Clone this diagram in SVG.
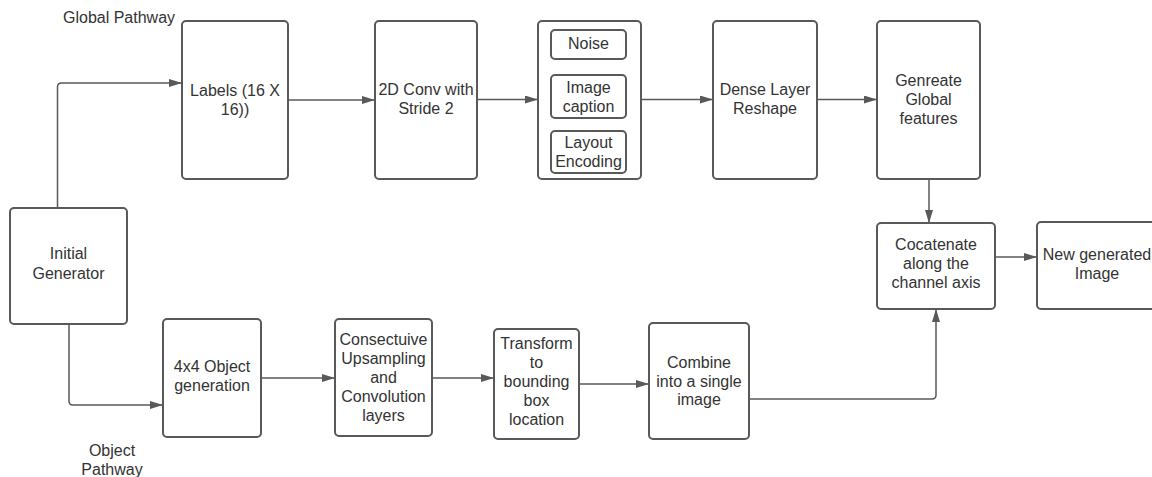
<svg xmlns="http://www.w3.org/2000/svg" width="1152" height="477" viewBox="0 0 1152 477">
  <style>
    .box { fill: #ffffff; stroke: #595959; stroke-width: 2; }
    .inner { fill: #ffffff; stroke: #595959; stroke-width: 2; }
    .wire { fill: none; stroke: #595959; stroke-width: 1.5; marker-end: url(#arrow); }
    text { font-family: "Liberation Sans", Arial, sans-serif; font-size: 16px; fill: #333333; }
    .c { text-anchor: middle; }
  </style>
  <defs>
    <marker id="arrow" markerUnits="userSpaceOnUse" markerWidth="13" markerHeight="8" refX="13" refY="4" orient="auto">
      <path d="M0,0 L13,4 L0,8 Z" fill="#595959"/>
    </marker>
  </defs>
  <rect width="1152" height="477" fill="#ffffff"/>

  <!-- free labels -->
  <text x="63" y="23">Global Pathway</text>
  <text class="c" x="112" y="456">Object</text>
  <text class="c" x="112" y="475">Pathway</text>

  <!-- connectors -->
  <g id="connectors">
    <path class="wire" d="M57.5,208 V87 Q57.5,83 61.5,83 H182"/>
    <path class="wire" d="M288,100 H375"/>
    <path class="wire" d="M477,99.5 H538"/>
    <path class="wire" d="M641,99.5 H713"/>
    <path class="wire" d="M817,99.5 H877"/>
    <path class="wire" d="M929,179 V223"/>
    <path class="wire" d="M995,257 H1037"/>
    <path class="wire" d="M69,324 V401 Q69,405 73,405 H163"/>
    <path class="wire" d="M261,378 H335"/>
    <path class="wire" d="M432,378 H494"/>
    <path class="wire" d="M579,384 H649"/>
    <path class="wire" d="M749,399 H932 Q936,399 936,395 V309"/>
  </g>

  <!-- global pathway -->
  <g id="labels">
    <rect class="box" x="182" y="21" width="106" height="158" rx="4"/>
    <text class="c" x="235" y="96">Labels (16 X</text>
    <text class="c" x="235" y="115">16))</text>
  </g>
  <g id="conv2d">
    <rect class="box" x="375" y="21" width="102" height="158" rx="4"/>
    <text class="c" x="426" y="95">2D Conv with</text>
    <text class="c" x="426" y="114">Stride 2</text>
  </g>
  <g id="inputs">
    <rect class="box" x="538" y="21" width="103" height="158" rx="4"/>
    <g id="noise">
      <rect class="inner" x="551" y="30" width="75" height="29" rx="4"/>
      <text class="c" x="588.5" y="49">Noise</text>
    </g>
    <g id="caption">
      <rect class="inner" x="551" y="75" width="75" height="43" rx="4"/>
      <text class="c" x="588.5" y="93">Image</text>
      <text class="c" x="588.5" y="112">caption</text>
    </g>
    <g id="layout">
      <rect class="inner" x="551" y="131" width="75" height="42" rx="4"/>
      <text class="c" x="588.5" y="148">Layout</text>
      <text class="c" x="588.5" y="167">Encoding</text>
    </g>
  </g>
  <g id="dense">
    <rect class="box" x="713" y="21" width="104" height="158" rx="4"/>
    <text class="c" x="765" y="95">Dense Layer</text>
    <text class="c" x="765" y="114">Reshape</text>
  </g>
  <g id="global-features">
    <rect class="box" x="877" y="21" width="103" height="158" rx="4"/>
    <text class="c" x="928.5" y="86">Genreate</text>
    <text class="c" x="928.5" y="105">Global</text>
    <text class="c" x="928.5" y="124">features</text>
  </g>

  <!-- merge and output -->
  <g id="concat">
    <rect class="box" x="877" y="223" width="118" height="86" rx="4"/>
    <text class="c" x="936" y="250">Cocatenate</text>
    <text class="c" x="936" y="269">along the</text>
    <text class="c" x="936" y="288">channel axis</text>
  </g>
  <g id="output">
    <rect class="box" x="1037" y="222" width="121" height="87" rx="4"/>
    <text class="c" x="1097" y="260">New generated</text>
    <text class="c" x="1097" y="279">Image</text>
  </g>

  <!-- start node -->
  <g id="initial">
    <rect class="box" x="10" y="208" width="117" height="116" rx="4"/>
    <text class="c" x="68.5" y="259">Initial</text>
    <text class="c" x="68.5" y="279">Generator</text>
  </g>

  <!-- object pathway -->
  <g id="object-gen">
    <rect class="box" x="163" y="319" width="98" height="118" rx="4"/>
    <text class="c" x="212" y="372">4x4 Object</text>
    <text class="c" x="212" y="391">generation</text>
  </g>
  <g id="upsampling">
    <rect class="box" x="335" y="319" width="97" height="117" rx="4"/>
    <text class="c" x="383.5" y="345">Consectuive</text>
    <text class="c" x="383.5" y="364">Upsampling</text>
    <text class="c" x="383.5" y="383">and</text>
    <text class="c" x="383.5" y="402">Convolution</text>
    <text class="c" x="383.5" y="421">layers</text>
  </g>
  <g id="transform">
    <rect class="box" x="494" y="329" width="85" height="110" rx="4"/>
    <text class="c" x="536.5" y="349">Transform</text>
    <text class="c" x="536.5" y="368">to</text>
    <text class="c" x="536.5" y="387">bounding</text>
    <text class="c" x="536.5" y="406">box</text>
    <text class="c" x="536.5" y="425">location</text>
  </g>
  <g id="combine">
    <rect class="box" x="649" y="323" width="100" height="116" rx="4"/>
    <text class="c" x="699" y="368">Combine</text>
    <text class="c" x="699" y="387">into a single</text>
    <text class="c" x="699" y="405">image</text>
  </g>
</svg>
